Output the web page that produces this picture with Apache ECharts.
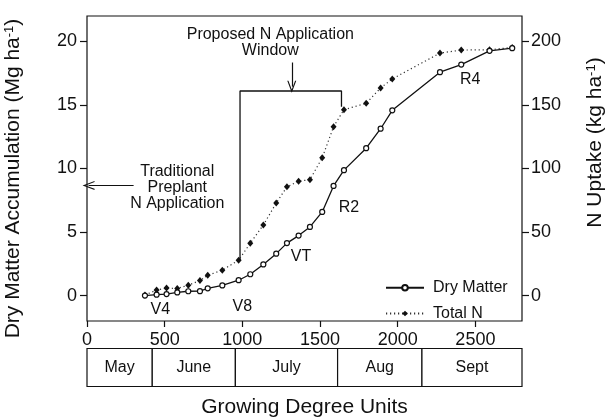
<!DOCTYPE html>
<html>
<head>
    <meta charset="utf-8">
    <title>Dry matter and N uptake</title>
    <script src="https://cdn.jsdelivr.net/npm/echarts@6/dist/echarts.min.js"></script>
    <style>
        html, body { margin: 0; padding: 0; background: #fff; }
        #main { width: 609px; height: 417px; }
    </style>
</head>
<body>
<div id="main"></div>
<script type="text/javascript">
    // growing degree units of each sampling
    var gdu = [373, 448, 512, 581, 652, 727, 777, 871, 976, 1051, 1135, 1218, 1287, 1362, 1435,
        1514, 1587, 1654, 1797, 1890, 1965, 2272, 2409, 2591, 2737];
    // dry matter (Mg/ha), left axis
    var dryMatter = [0, 0.07, 0.12, 0.25, 0.34, 0.35, 0.57, 0.8, 1.21, 1.68, 2.45, 3.3, 4.13, 4.72, 5.4,
        6.58, 8.63, 9.87, 11.6, 13.13, 14.58, 17.58, 18.18, 19.26, 19.47];
    // total N uptake (kg/ha), right axis
    var totalN = [0.5, 4.3, 5.9, 5.6, 8.2, 11.8, 16, 20, 27.9, 41.2, 55.5, 72.8, 85.6, 90, 91.2,
        108.4, 132.9, 146.3, 151.3, 163.4, 170.5, 190.8, 193.2, 193.4, 195.3];

    var leftTicks = [0, 5, 10, 15, 20];
    var rightTicks = [0, 50, 100, 150, 200];
    var xTicks = [0, 500, 1000, 1500, 2000, 2500];

    // month bands along the GDU axis
    var monthNames = ['May', 'June', 'July', 'Aug', 'Sept'];
    var monthEdges = [0, 420, 955, 1613, 2156, 2800];

    // proposed application window bracket (GDU, N)
    var windowBracket = [[985, 27.9], [985, 161], [1638, 161], [1638, 148.6]];
    // arrows: [from, to] in (GDU, N)
    var arrows = [
        [[1318, 183.4], [1318, 164.4]],
        [[300, 86.7], [10, 86.7]]
    ];
    // text notes in (GDU, N)
    var notes = [
        ['Proposed N Application\nWindow', 1180, 199.4],
        ['Traditional\nPreplant\nN Application', 581, 85],
        ['V4', 472, -11.3],
        ['V8', 1000, -8.9],
        ['VT', 1377, 30.5],
        ['R2', 1686, 69.2],
        ['R4', 2467, 170.2]
    ];

    var ink = '#111';
    var chevron = 'path://M5,0 L10,12 L8.7,12 L5,3.1 L1.3,12 L0,12 Z';

    function plain(v) { return String(v); }

    function drawGraph() {
        var myChart = echarts.init(document.getElementById('main'));

        var monthAreas = [];
        for (var i = 0; i < monthNames.length; i++) {
            monthAreas.push([
                { name: monthNames[i], coord: [monthEdges[i], 0] },
                { coord: [monthEdges[i + 1], 1] }
            ]);
        }

        var option = {
            animation: false,
            textStyle: { fontFamily: 'Liberation Sans, Arial, sans-serif', color: ink },
            grid: [{
                left: 87,
                right: 87,
                top: 16,
                height: 305,
                outerBoundsMode: 'none',
                containLabel: false,
                show: true,
                borderColor: ink,
                borderWidth: 1.2
            }, {
                left: 87,
                right: 87,
                top: 348.5,
                height: 38,
                outerBoundsMode: 'none',
                containLabel: false
            }],
            legend: {
                data: ['Dry Matter', 'Total N'],
                orient: 'vertical',
                left: 385,
                top: 279.8,
                padding: 0,
                itemWidth: 38,
                itemHeight: 7,
                itemGap: 9.7,
                textStyle: { fontSize: 16, color: ink, padding: [0, 0, 0, 4] }
            },
            xAxis: [{
                type: 'value',
                gridIndex: 0,
                min: 0,
                max: 2800,
                name: 'Growing Degree Units',
                nameLocation: 'middle',
                nameGap: 76,
                nameTextStyle: { fontSize: 21, color: ink },
                axisLine: { show: false, onZero: false },
                axisTick: { show: true, length: 6, customValues: xTicks, lineStyle: { color: ink, width: 1.2 } },
                axisLabel: { customValues: xTicks, formatter: plain, fontSize: 18, color: ink, margin: 10 },
                splitLine: { show: false }
            }, {
                type: 'value',
                gridIndex: 1,
                min: 0,
                max: 2800,
                show: false
            }],
            yAxis: [{
                type: 'value',
                gridIndex: 0,
                min: -2,
                max: 22,
                name: 'Dry Matter Accumulation (Mg ha{s|-1})',
                nameLocation: 'middle',
                nameGap: 63,
                nameTextStyle: {
                    fontSize: 21, color: ink, padding: [0, 20, 0, 0],
                    rich: { s: { fontSize: 13, verticalAlign: 'top', color: ink } }
                },
                axisLine: { show: false, onZero: false },
                axisTick: { show: true, length: 7, customValues: leftTicks, lineStyle: { color: ink, width: 1.2 } },
                axisLabel: { customValues: leftTicks, formatter: plain, fontSize: 18, color: ink, margin: 10 },
                splitLine: { show: false }
            }, {
                type: 'value',
                gridIndex: 0,
                position: 'right',
                min: -20,
                max: 220,
                name: 'N Uptake (kg ha{s|-1})',
                nameLocation: 'middle',
                nameGap: 63,
                nameTextStyle: {
                    fontSize: 21, color: ink, padding: [0, 0, 0, 52],
                    rich: { s: { fontSize: 13, verticalAlign: 'top', color: ink } }
                },
                axisLine: { show: false, onZero: false },
                axisTick: { show: true, length: 7, customValues: rightTicks, lineStyle: { color: ink, width: 1.2 } },
                axisLabel: { customValues: rightTicks, formatter: plain, fontSize: 18, color: ink, margin: 9 },
                splitLine: { show: false }
            }, {
                type: 'value',
                gridIndex: 1,
                min: 0,
                max: 1,
                show: false
            }],
            series: [{
                name: 'Window',
                type: 'line',
                xAxisIndex: 0,
                yAxisIndex: 1,
                data: windowBracket,
                showSymbol: false,
                silent: true,
                lineStyle: { color: ink, width: 1.3 },
                markLine: {
                    silent: true,
                    symbol: ['none', chevron],
                    symbolSize: [9, 12],
                    label: { show: false },
                    lineStyle: { color: ink, width: 1.2, type: 'solid' },
                    data: arrows.map(function (a) {
                        return [{ coord: a[0] }, { coord: a[1] }];
                    })
                }
            }, {
                name: 'Total N',
                type: 'line',
                xAxisIndex: 0,
                yAxisIndex: 1,
                data: gdu.map(function (g, i) { return [g, totalN[i]]; }),
                symbol: 'diamond',
                symbolSize: [6, 7],
                itemStyle: { color: ink },
                lineStyle: { color: '#333', width: 1.2, type: [1.2, 2.8] }
            }, {
                name: 'Dry Matter',
                type: 'line',
                xAxisIndex: 0,
                yAxisIndex: 0,
                data: gdu.map(function (g, i) { return [g, dryMatter[i]]; }),
                symbol: 'circle',
                symbolSize: 5,
                itemStyle: { color: '#fff', borderColor: ink, borderWidth: 1.2 },
                lineStyle: { color: ink, width: 1.3 }
            }, {
                name: 'Notes',
                type: 'scatter',
                xAxisIndex: 0,
                yAxisIndex: 1,
                silent: true,
                symbolSize: 1,
                itemStyle: { color: 'rgba(0,0,0,0)' },
                label: {
                    show: true,
                    position: 'inside',
                    formatter: '{b}',
                    fontSize: 16,
                    lineHeight: 16,
                    align: 'center',
                    color: ink,
                    opacity: 1,
                    textBorderWidth: 0,
                    textBorderColor: 'transparent'
                },
                data: notes.map(function (n) { return { name: n[0], value: [n[1], n[2]] }; })
            }, {
                name: 'Months',
                type: 'line',
                xAxisIndex: 1,
                yAxisIndex: 2,
                data: [],
                markArea: {
                    silent: true,
                    itemStyle: { color: '#fff', borderColor: ink, borderWidth: 1.2 },
                    label: { show: true, position: 'inside', fontSize: 16, color: ink },
                    data: monthAreas
                }
            }]
        };

        myChart.setOption(option);
    }

    drawGraph();
</script>
</body>
</html>
